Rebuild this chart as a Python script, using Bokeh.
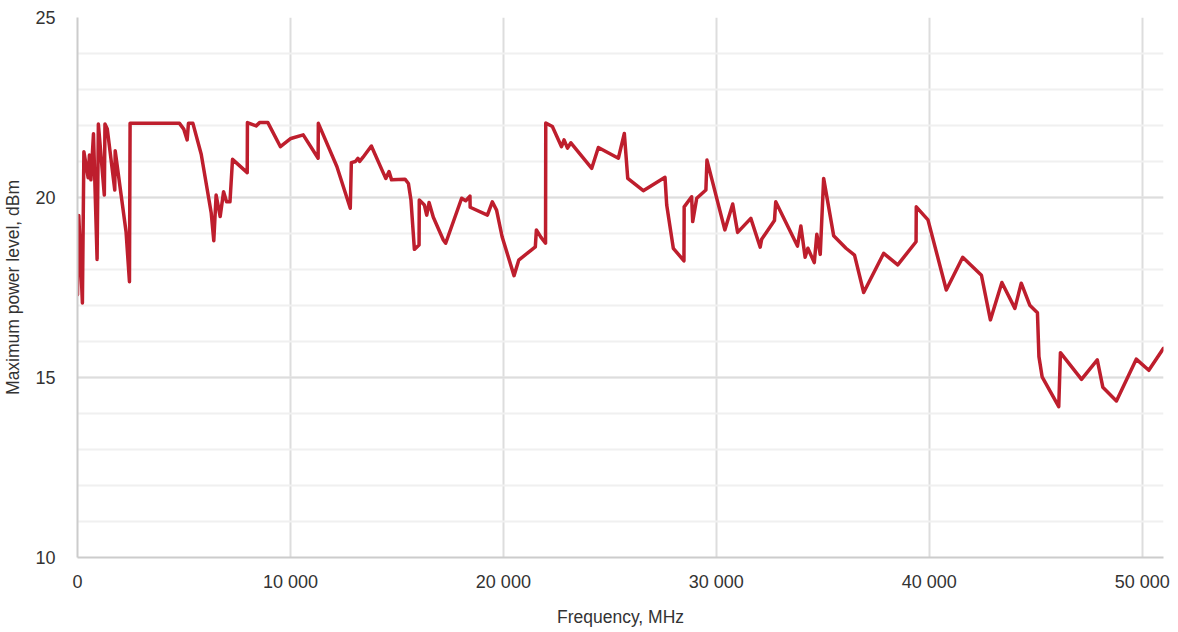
from bokeh.plotting import figure
from bokeh.models import Range1d, FixedTicker, SingleIntervalTicker, ColumnDataSource
from bokeh.embed import file_html
from bokeh.resources import INLINE

freq_mhz = [
    0, 60, 230, 300, 500, 560, 630, 750, 920, 980, 1260, 1290, 1400, 1750, 1770,
    2080, 2280, 2440, 2470, 4790, 4990, 5150, 5210, 5420, 5810, 6280, 6400, 6510,
    6700, 6860, 7000, 7160, 7280, 7970, 7980, 8390, 8550, 8940, 9530, 10020, 10600,
    11300, 11310, 12180, 12810, 12860, 13050, 13170, 13250, 13410, 13800, 14370,
    14480, 14630, 14750, 15380, 15540, 15660, 15820, 16040, 16050, 16290, 16400,
    16510, 16710, 17180, 17290, 18040, 18230, 18430, 18440, 19250, 19480, 19680,
    19940, 20500, 20720, 21160, 21500, 21550, 21760, 21980, 21990, 22300, 22730,
    22850, 23010, 23170, 24150, 24460, 25400, 25680, 25840, 26570, 27590, 27670,
    27980, 28480, 28490, 28840, 28890, 29080, 29510, 29560, 30400, 30770, 31000,
    31620, 32060, 32130, 32730, 32790, 33810, 33970, 34170, 34300, 34600, 34720,
    34880, 35040, 35510, 36090, 36490, 36920, 37860, 38520, 39380, 39390, 39940,
    40800, 41570, 42450, 42870, 43410, 44020, 44320, 44720, 45080, 45150, 45300,
    46080, 46160, 47150, 47890, 48150, 48790, 49720, 50310, 51000,
]
max_power_dbm = [
    17.3, 19.5, 17.07, 21.27, 20.55, 21.18, 20.49, 21.77, 18.28, 22.04, 20.07, 22.04,
    21.9, 20.21, 21.3, 19.93, 19.05, 17.66, 22.06, 22.06, 21.9, 21.6, 22.06, 22.06,
    21.2, 19.57, 18.8, 20.07, 19.47, 20.16, 19.88, 19.88, 21.06, 20.69, 22.08, 21.99,
    22.08, 22.08, 21.41, 21.64, 21.74, 21.09, 22.06, 20.86, 19.7, 20.97, 21.0, 21.09,
    21.0, 21.12, 21.43, 20.67, 20.53, 20.72, 20.49, 20.51, 20.39, 19.93, 18.56, 18.68,
    19.93, 19.79, 19.51, 19.86, 19.45, 18.82, 18.73, 19.98, 19.91, 20.04, 19.73, 19.51,
    19.88, 19.65, 18.91, 17.83, 18.26, 18.47, 18.63, 19.1, 18.9, 18.73, 22.07, 21.97,
    21.41, 21.6, 21.37, 21.52, 20.81, 21.39, 21.09, 21.78, 20.53, 20.19, 20.56, 19.79,
    18.59, 18.24, 19.74, 20.02, 19.33, 19.98, 20.21, 21.04, 19.1, 19.82, 19.03, 19.42,
    18.62, 18.84, 19.36, 19.88, 18.65, 19.21, 18.34, 18.59, 18.19, 18.98, 18.42, 20.53,
    18.94, 18.59, 18.4, 17.36, 18.45, 18.13, 18.77, 19.74, 19.38, 17.43, 18.34, 17.84,
    16.6, 17.64, 16.92, 17.62, 17.01, 16.8, 15.58, 15.02, 14.19, 15.69, 14.95, 15.49,
    14.73, 14.35, 15.51, 15.2, 15.81,
]

x_ticks = [0, 10000, 20000, 30000, 40000, 50000]
x_tick_labels = ["0", "10 000", "20 000", "30 000", "40 000", "50 000"]

FONT = "Liberation Sans"
TXT = "#333333"

p = figure(frame_width=1086, frame_height=540, output_backend="svg", toolbar_location=None,
           x_range=Range1d(0, 51000), y_range=Range1d(10, 25),
           min_border_left=40, min_border_right=8, min_border_top=17,
           min_border_bottom=40)
p.outline_line_color = None
p.background_fill_color = "white"
p.border_fill_color = "white"

src = ColumnDataSource(dict(f=freq_mhz, v=max_power_dbm))
p.line("f", "v", source=src, line_color="#be1e2d", line_width=3.5,
       line_join="round", line_cap="round")

p.xaxis.ticker = FixedTicker(ticks=x_ticks)
p.xaxis.major_label_overrides = {t: l for t, l in zip(x_ticks, x_tick_labels)}
p.xaxis.axis_label = "Frequency, MHz"
p.xaxis.major_tick_line_color = None
p.xaxis.minor_tick_line_color = None
p.xaxis.major_tick_out = 0
p.xaxis.major_tick_in = 0
p.xaxis.major_label_standoff = 14
p.xaxis.axis_label_standoff = 12

p.yaxis.ticker = SingleIntervalTicker(interval=5, num_minor_ticks=5)
p.yaxis.axis_label = "Maximum power level, dBm"
p.yaxis.major_tick_line_color = None
p.yaxis.minor_tick_line_color = None
p.yaxis.major_tick_out = 0
p.yaxis.major_tick_in = 0
p.yaxis.major_label_standoff = 18
p.yaxis.axis_label_standoff = 9

for ax in (p.xaxis, p.yaxis):
    ax.axis_line_color = "#cccccc"
    ax.axis_line_width = 2
    ax.major_label_text_font = FONT
    ax.major_label_text_font_size = "18px"
    ax.major_label_text_color = TXT
    ax.axis_label_text_font = FONT
    ax.axis_label_text_font_size = "17.5px"
    ax.axis_label_text_font_style = "normal"
    ax.axis_label_text_color = TXT

p.xgrid.grid_line_color = "#dddddd"
p.xgrid.grid_line_width = 2
p.ygrid.grid_line_color = "#dddddd"
p.ygrid.grid_line_width = 2
p.ygrid.minor_grid_line_color = "#f0f0f0"
p.ygrid.minor_grid_line_width = 2

open("out.html", "w").write(file_html(p, INLINE))
